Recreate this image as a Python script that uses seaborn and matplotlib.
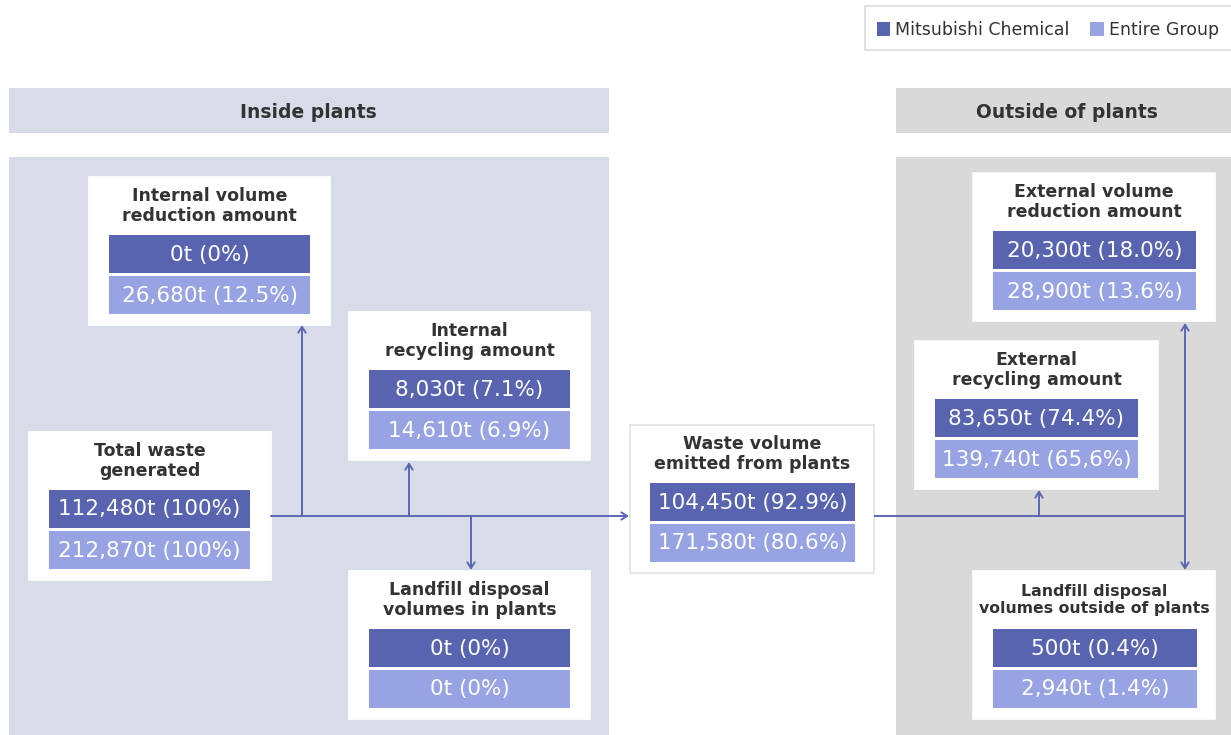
import matplotlib.pyplot as plt
import seaborn as sns
from matplotlib.patches import Rectangle

# node data
titles = ["Total waste\ngenerated",
          "Internal volume\nreduction amount",
          "Internal\nrecycling amount",
          "Landfill disposal\nvolumes in plants",
          "Waste volume\nemitted from plants",
          "External volume\nreduction amount",
          "External\nrecycling amount",
          "Landfill disposal\nvolumes outside of plants"]
mc_tonnes = [112480, 0, 8030, 0, 104450, 20300, 83650, 500]
mc_pct = ["100%", "0%", "7.1%", "0%", "92.9%", "18.0%", "74.4%", "0.4%"]
group_tonnes = [212870, 26680, 14610, 0, 171580, 28900, 139740, 2940]
group_pct = ["100%", "12.5%", "6.9%", "0%", "80.6%", "13.6%", "65,6%", "1.4%"]
series = ["Mitsubishi Chemical", "Entire Group"]
sections = ["Inside plants", "Outside of plants"]

DARK = "#5864b0"
LIGHT = "#97a3e2"
LINE = "#5b67b4"
BLUE_BG = "#d8dce8"
GRAY_BG = "#d9d9d9"
TXT = "#333333"

# layout: box x0, y0, x1, bar x0, bar x1 (pixel space, y down)
layout = [(29, 432, 271, 49, 250),
          (89, 177, 330, 109, 310),
          (349, 312, 590, 369, 570),
          (349, 571, 590, 369, 570),
          (630, 425, 874, 650, 855),
          (973, 173, 1215, 993, 1196),
          (915, 341, 1158, 935, 1138),
          (973, 571, 1215, 993, 1197)]

sns.set_theme(style="white")
plt.rcParams['font.family'] = ['DejaVu Sans']

fig = plt.figure(figsize=(12.31, 7.35), dpi=100)
ax = fig.add_axes([0, 0, 1, 1])
ax.set_xlim(0, 1231)
ax.set_ylim(735, 0)
ax.axis("off")
renderer = fig.canvas.get_renderer()

# section headers and panels
ax.add_patch(Rectangle((9, 88), 600, 45, color=BLUE_BG, lw=0))
ax.add_patch(Rectangle((896, 88), 340, 45, color=GRAY_BG, lw=0))
ax.add_patch(Rectangle((9, 157), 600, 580, color=BLUE_BG, lw=0))
ax.add_patch(Rectangle((896, 157), 340, 580, color=GRAY_BG, lw=0))
ax.text(308, 112, sections[0], ha="center", va="center", fontsize=13.5,
        fontweight="bold", color=TXT)
ax.text(1067, 112, sections[1], ha="center", va="center", fontsize=13.5,
        fontweight="bold", color=TXT)

# legend
ax.add_patch(Rectangle((865, 6), 380, 44, facecolor="white",
                       edgecolor="#dddddd", lw=1.2))
ax.add_patch(Rectangle((877, 22), 13, 14, color=DARK, lw=0))
ax.text(895, 29.5, series[0], ha="left", va="center", fontsize=12.5, color=TXT)
ax.add_patch(Rectangle((1090, 22), 14, 14, color=LIGHT, lw=0))
ax.text(1109, 29.5, series[1], ha="left", va="center", fontsize=12.5, color=TXT)

# flow lines
def seg(x0, y0, x1, y1, head=False):
    if head:
        ax.annotate("", xy=(x1, y1), xytext=(x0, y0),
                    arrowprops=dict(arrowstyle="->,head_length=0.35,head_width=0.22",
                                    color=LINE, lw=1.4, shrinkA=0, shrinkB=0))
    else:
        ax.plot([x0, x1], [y0, y1], color=LINE, lw=1.4, solid_capstyle="butt")

seg(271, 516, 629, 516, True)
seg(302, 516, 302, 325, True)
seg(409, 516, 409, 462, True)
seg(471, 516, 471, 570, True)
seg(874, 516, 1185, 516)
seg(1039, 516, 1039, 490, True)
seg(1185, 516, 1185, 323, True)
seg(1185, 516, 1185, 570, True)

# node boxes
for i, (bx0, by0, bx1, cx0, cx1) in enumerate(layout):
    edge = "#e3e3e3" if i == 4 else "white"
    ax.add_patch(Rectangle((bx0, by0), bx1 - bx0, 148, facecolor="white",
                           edgecolor=edge, lw=1.2))
    t = ax.text((bx0 + bx1) / 2, by0 + 29, titles[i], ha="center", va="center",
                fontsize=12.5, fontweight="bold", color=TXT, linespacing=1.15)
    # shrink long titles so they stay inside the box
    w = t.get_window_extent(renderer).width
    if w > bx1 - bx0 - 12:
        t.set_fontsize(12.5 * (bx1 - bx0 - 12) / w)
    rows = [(f"{mc_tonnes[i]:,}t ({mc_pct[i]})", DARK, by0 + 58),
            (f"{group_tonnes[i]:,}t ({group_pct[i]})", LIGHT, by0 + 99)]
    for label, col, top in rows:
        ax.barh(top + 19, cx1 - cx0, left=cx0, height=38, color=col, lw=0)
        ax.text((cx0 + cx1) / 2, top + 19.5, label, ha="center", va="center",
                fontsize=15.5, color="white")

fig.savefig("out.png", dpi=100)
